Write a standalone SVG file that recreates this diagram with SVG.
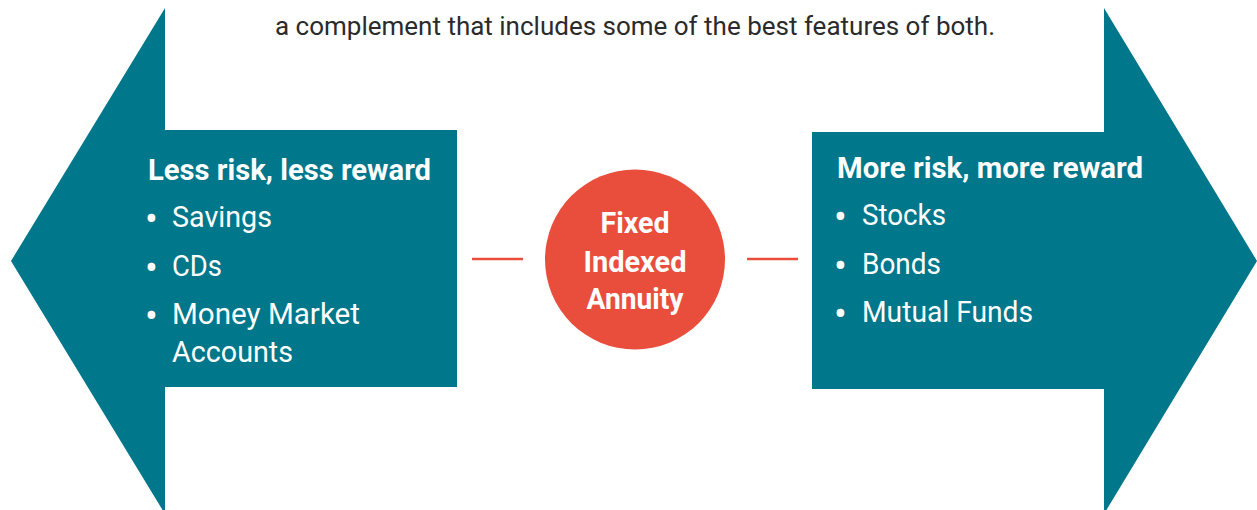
<svg xmlns="http://www.w3.org/2000/svg" width="1257" height="510" viewBox="0 0 1257 510">
<style>
.arrow{fill:#00778B}
.t{font-family:"Liberation Sans Narrow","Roboto","Liberation Sans",sans-serif;fill:#fff}
.h{font-size:29px;font-weight:bold}
.b{font-size:29px}
.d{font-size:38px}
.c{font-size:29px;font-weight:bold;text-anchor:middle}
.top{font-family:"Liberation Sans Narrow","Roboto","Liberation Sans",sans-serif;font-size:26px;fill:#2b2b2b}
.conn{stroke:#E94E3C;stroke-width:2.5;fill:none}
</style>
<rect width="1257" height="510" fill="#fff"/>
<text class="top" x="275" y="35" textLength="720" lengthAdjust="spacingAndGlyphs">a complement that includes some of the best features of both.</text>
<g id="left-arrow">
<polygon class="arrow" points="165,8 165,130 457,130 457,387 165,387 165,514 11,261"/>
<text class="t h" x="148" y="180" textLength="283" lengthAdjust="spacingAndGlyphs">Less risk, less reward</text>
<text class="t d" x="145" y="232">•</text>
<text class="t b" x="172" y="227" textLength="100" lengthAdjust="spacingAndGlyphs">Savings</text>
<text class="t d" x="145" y="281">•</text>
<text class="t b" x="172" y="276" textLength="50" lengthAdjust="spacingAndGlyphs">CDs</text>
<text class="t d" x="145" y="329">•</text>
<text class="t b" x="172" y="324" textLength="188" lengthAdjust="spacingAndGlyphs">Money Market</text>
<text class="t b" x="172" y="362" textLength="121" lengthAdjust="spacingAndGlyphs">Accounts</text>
</g>
<g id="right-arrow">
<polygon class="arrow" points="1104,8 1104,132 812,132 812,389 1104,389 1104,514 1257,261"/>
<text class="t h" x="837" y="178" textLength="306" lengthAdjust="spacingAndGlyphs">More risk, more reward</text>
<text class="t d" x="834" y="230">•</text>
<text class="t b" x="862" y="225" textLength="84" lengthAdjust="spacingAndGlyphs">Stocks</text>
<text class="t d" x="834" y="279">•</text>
<text class="t b" x="862" y="274" textLength="79" lengthAdjust="spacingAndGlyphs">Bonds</text>
<text class="t d" x="834" y="327">•</text>
<text class="t b" x="862" y="322" textLength="171" lengthAdjust="spacingAndGlyphs">Mutual Funds</text>
</g>
<g id="connectors">
<line class="conn" x1="472" y1="259" x2="523" y2="259"/>
<line class="conn" x1="747" y1="259" x2="798" y2="259"/>
</g>
<g id="center">
<circle cx="635" cy="259.5" r="90" fill="#E94E3C"/>
<text class="t c" x="635" y="233" textLength="69" lengthAdjust="spacingAndGlyphs">Fixed</text>
<text class="t c" x="635" y="272" textLength="103" lengthAdjust="spacingAndGlyphs">Indexed</text>
<text class="t c" x="635" y="309" textLength="97" lengthAdjust="spacingAndGlyphs">Annuity</text>
</g>
</svg>
